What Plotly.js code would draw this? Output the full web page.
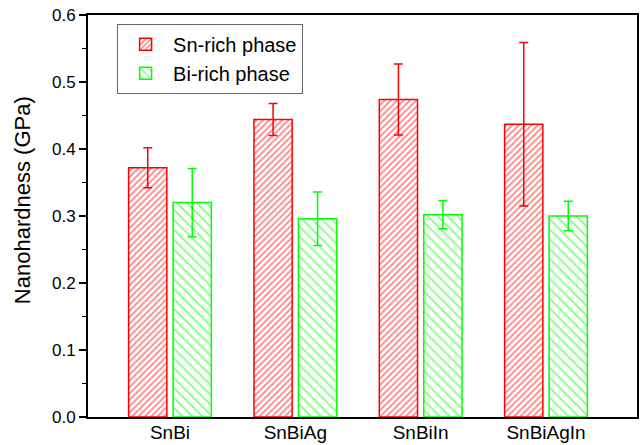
<!DOCTYPE html>
<html>
<head>
<meta charset="utf-8">
<script src="https://cdn.plot.ly/plotly-3.0.1.min.js"></script>
<style>html,body{margin:0;padding:0;background:#fff}#chart{width:641px;height:445px}</style>
</head>
<body>
<div id="chart"></div>
<script>
const categories = ["SnBi", "SnBiAg", "SnBiIn", "SnBiAgIn"];
const snRich = [0.372, 0.444, 0.474, 0.437];
const snRichErr = [0.030, 0.024, 0.053, 0.122];
const biRich = [0.320, 0.296, 0.302, 0.300];
const biRichErr = [0.051, 0.040, 0.021, 0.022];
const seriesNames = ["Sn-rich phase", "Bi-rich phase"];
const yTitle = "Nanohardness (GPa)";

const FONT = "Liberation Sans, Arial, sans-serif";

const traces = [
  {
    type: "bar", name: seriesNames[0], x: categories, y: snRich,
    width: 0.305, offset: -0.33,
    marker: {color: "#ffffff", line: {color: "#ff0000", width: 1.5},
      pattern: {shape: "/", fgcolor: "#ff0000", bgcolor: "#ffffff", size: 4.5, solidity: 0.38, fillmode: "overlay"}},
    error_y: {type: "data", array: snRichErr, visible: true, color: "#ff0000", thickness: 1.5, width: 4.5}
  },
  {
    type: "bar", name: seriesNames[1], x: categories, y: biRich,
    width: 0.305, offset: 0.025,
    marker: {color: "#ffffff", line: {color: "#00ff00", width: 1.5},
      pattern: {shape: "\\", fgcolor: "#00ff00", bgcolor: "#ffffff", size: 7, solidity: 0.25, fillmode: "overlay"}},
    error_y: {type: "data", array: biRichErr, visible: true, color: "#00ff00", thickness: 1.5, width: 4.5}
  }
];

const layout = {
  width: 641, height: 445,
  margin: {l: 88, r: 4, t: 15, b: 28},
  paper_bgcolor: "#ffffff", plot_bgcolor: "#ffffff",
  font: {family: FONT, color: "#000000", size: 17},
  barmode: "overlay",
  showlegend: true,
  legend: {
    x: 0.053, y: 0.978, xanchor: "left", yanchor: "top",
    bgcolor: "#ffffff", bordercolor: "#666666", borderwidth: 1,
    font: {family: FONT, size: 20, color: "#000000"},
    tracegroupgap: 0, itemwidth: 45
  },
  xaxis: {
    type: "category", range: [-0.654, 3.726],
    showline: true, linecolor: "#000000", linewidth: 2, mirror: true,
    ticks: "", showgrid: false, zeroline: false, ticklabelstandoff: -3,
    tickfont: {family: FONT, size: 19, color: "#000000"}
  },
  yaxis: {
    range: [0, 0.6], dtick: 0.1, tickformat: ".1f",
    showline: true, linecolor: "#000000", linewidth: 2, mirror: true,
    ticks: "outside", ticklen: 7, tickwidth: 1.5, tickcolor: "#000000",
    minor: {dtick: 0.05, ticks: "outside", ticklen: 4, tickwidth: 1.5, tickcolor: "#000000", showgrid: false},
    showgrid: false, zeroline: false,
    tickfont: {family: FONT, size: 17, color: "#000000"}
  },
  annotations: [{
    text: yTitle, textangle: -90, showarrow: false,
    xref: "paper", yref: "paper", x: -0.118, y: 0.54,
    xanchor: "center", yanchor: "middle",
    font: {family: FONT, size: 22, color: "#000000"}
  }]
};

Plotly.newPlot("chart", traces, layout, {displayModeBar: false, staticPlot: true});
</script>
</body>
</html>
